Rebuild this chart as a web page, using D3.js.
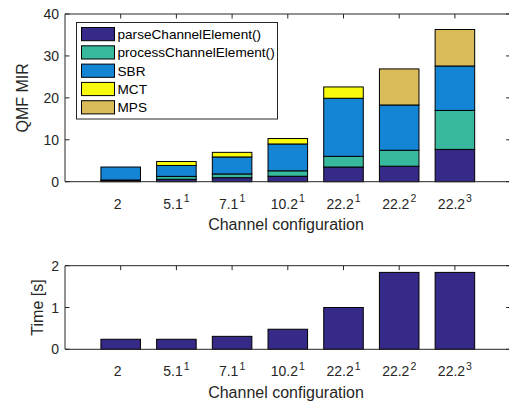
<!DOCTYPE html>
<html>
<head>
<meta charset="utf-8">
<script src="https://cdn.jsdelivr.net/npm/d3@7/dist/d3.min.js"></script>
<style>
  html, body { margin: 0; padding: 0; background: #fff; }
  svg { display: block; font-family: "Liberation Sans", Arial, sans-serif; }
</style>
</head>
<body>
<svg id="chart" width="509" height="404"></svg>
<script>
// Channel configurations (base label + superscript index)
const configs = ["2", "5.1", "7.1", "10.2", "22.2", "22.2", "22.2"];
const configSup = ["", "1", "1", "1", "1", "2", "3"];

// QMF MIR contributions per module
const parseChannelElement = [0.3, 0.57, 0.95, 1.3, 3.5, 3.7, 7.7];
const processChannelElement = [0.1, 0.7, 0.9, 1.3, 2.55, 3.8, 9.3];
const sbr = [3.1, 2.6, 4.05, 6.4, 13.85, 10.8, 10.6];
const mct = [0, 0.95, 1.1, 1.3, 2.7, 0, 0];
const mps = [0, 0, 0, 0, 0, 8.6, 8.7];

// Decoding time in seconds
const timeSec = [0.24, 0.24, 0.31, 0.48, 1.0, 1.84, 1.84];

const seriesNames = ["parseChannelElement()", "processChannelElement()", "SBR", "MCT", "MPS"];
const seriesKeys = ["parse", "process", "sbr", "mct", "mps"];
const seriesColors = ["#352a87", "#38b89d", "#1484d4", "#f8fa0d", "#d9bb59"];

const yTicksTop = [0, 10, 20, 30, 40];
const yTicksBottom = [0, 1, 2];

const svg = d3.select("#chart");
const axisColor = "#262626";
const textColor = "#262626";

const left = 65, right = 510.6;
const x = d3.scaleLinear().domain([0, 8]).range([left, right]);
const barW = 0.71 * (x(1) - x(0));
const tickLen = 4.5;

const rows = configs.map((c, i) => ({
  parse: parseChannelElement[i],
  process: processChannelElement[i],
  sbr: sbr[i],
  mct: mct[i],
  mps: mps[i],
  i
}));

function drawFrame(g, y, yTicks, top, bottom) {
  // box lines
  g.append("line").attr("x1", left).attr("x2", right).attr("y1", top).attr("y2", top)
    .attr("stroke", axisColor).attr("stroke-width", 1);
  g.append("line").attr("x1", right).attr("x2", right).attr("y1", top).attr("y2", bottom)
    .attr("stroke", axisColor).attr("stroke-width", 1);
  // y ticks, left and right, pointing inward
  yTicks.forEach(t => {
    g.append("line").attr("x1", left).attr("x2", left + tickLen).attr("y1", y(t)).attr("y2", y(t))
      .attr("stroke", axisColor);
    g.append("line").attr("x1", right - tickLen).attr("x2", right).attr("y1", y(t)).attr("y2", y(t))
      .attr("stroke", axisColor);
  });
  // x ticks, top and bottom
  d3.range(1, 8).forEach(k => {
    g.append("line").attr("x1", x(k)).attr("x2", x(k)).attr("y1", top).attr("y2", top + tickLen)
      .attr("stroke", axisColor);
    g.append("line").attr("x1", x(k)).attr("x2", x(k)).attr("y1", bottom).attr("y2", bottom - tickLen)
      .attr("stroke", axisColor);
  });
}

function drawAxesOver(g, y, yTicks, top, bottom, yLabel, yLabelX) {
  g.append("line").attr("x1", left).attr("x2", left).attr("y1", top).attr("y2", bottom)
    .attr("stroke", axisColor).attr("stroke-width", 1);
  g.append("line").attr("x1", left).attr("x2", right).attr("y1", bottom).attr("y2", bottom)
    .attr("stroke", axisColor).attr("stroke-width", 1);
  yTicks.forEach(t => {
    g.append("text").attr("x", left - 6).attr("y", y(t) + 5)
      .attr("text-anchor", "end").attr("font-size", 14).attr("fill", textColor).text(t);
  });
  configs.forEach((c, i) => {
    const t = g.append("text").attr("x", x(i + 1) - (configSup[i] ? 0 : 3)).attr("y", bottom + 26.8)
      .attr("text-anchor", "middle").attr("font-size", 14).attr("fill", textColor);
    t.append("tspan").text(c);
    if (configSup[i]) {
      t.append("tspan").attr("font-size", 10.5).attr("dy", -6.5).attr("dx", 1).text(configSup[i]);
    }
  });
  g.append("text").attr("x", 286).attr("y", bottom + 48.5)
    .attr("text-anchor", "middle").attr("font-size", 16).attr("fill", textColor)
    .text("Channel configuration");
  g.append("text")
    .attr("transform", `translate(${yLabelX},${(top + bottom) / 2}) rotate(-90)`)
    .attr("text-anchor", "middle").attr("font-size", 16).attr("fill", textColor)
    .text(yLabel);
}

// ---- Top panel: stacked QMF MIR ----
const topT = 14, topB = 181.7;
const yTop = d3.scaleLinear().domain([0, 40]).range([topB, topT]);
const gTop = svg.append("g");
drawFrame(gTop, yTop, yTicksTop, topT, topB);

const stacked = d3.stack().keys(seriesKeys)(rows);
stacked.forEach((layer, li) => {
  gTop.append("g").selectAll("rect")
    .data(layer.filter(d => d[1] - d[0] > 0))
    .join("rect")
    .attr("x", d => x(d.data.i + 1) - barW / 2)
    .attr("width", barW)
    .attr("y", d => yTop(d[1]))
    .attr("height", d => yTop(d[0]) - yTop(d[1]))
    .attr("fill", seriesColors[li])
    .attr("stroke", "#000")
    .attr("stroke-width", 1);
});
drawAxesOver(gTop, yTop, yTicksTop, topT, topB, "QMF MIR", 27.5);

// legend
const lg = gTop.append("g");
lg.append("rect").attr("x", 76.5).attr("y", 22.5).attr("width", 201).attr("height", 96.5)
  .attr("fill", "#fff").attr("stroke", axisColor).attr("stroke-width", 1);
seriesNames.forEach((name, k) => {
  const ry = 27.5 + k * 18.3;
  lg.append("rect").attr("x", 81.5).attr("y", ry).attr("width", 33).attr("height", 13.2)
    .attr("fill", seriesColors[k]).attr("stroke", "#000").attr("stroke-width", 1);
  lg.append("text").attr("x", 117.5).attr("y", ry + 11.5).attr("font-size", 13.6)
    .attr("fill", "#000").text(name);
});

// ---- Bottom panel: decoding time ----
const botT = 265.7, botB = 349.3;
const yBot = d3.scaleLinear().domain([0, 2]).range([botB, botT]);
const gBot = svg.append("g");
drawFrame(gBot, yBot, yTicksBottom, botT, botB);
gBot.append("g").selectAll("rect")
  .data(timeSec)
  .join("rect")
  .attr("x", (d, i) => x(i + 1) - barW / 2)
  .attr("width", barW)
  .attr("y", d => yBot(d))
  .attr("height", d => yBot(0) - yBot(d))
  .attr("fill", seriesColors[0])
  .attr("stroke", "#000")
  .attr("stroke-width", 1);
drawAxesOver(gBot, yBot, yTicksBottom, botT, botB, "Time [s]", 42.5);
</script>
</body>
</html>
